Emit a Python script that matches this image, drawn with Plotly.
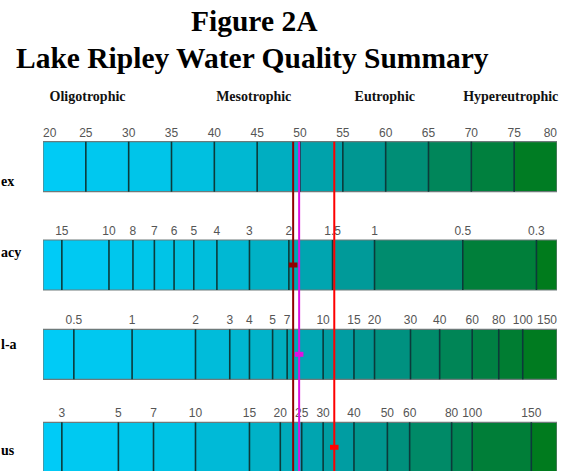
import plotly.graph_objects as go

# ---------------- data ----------------
title_lines = ["Figure 2A", "Lake Ripley Water Quality Summary"]

trophic_classes = ["Oligotrophic", "Mesotrophic", "Eutrophic", "Hypereutrophic"]
trophic_class_tsi = [25.2, 44.6, 59.9, 74.6]

# row names as far as they are visible at the cropped left edge of the reference
row_names = ["ex", "acy", "l-a", "us"]

tsi_labels = ["20", "25", "30", "35", "40", "45", "50", "55", "60", "65", "70", "75", "80"]
tsi_pos = [20, 25, 30, 35, 40, 45, 50, 55, 60, 65, 70, 75, 80]

secchi_labels = ["15", "10", "8", "7", "6", "5", "4", "3", "2", "1.5", "1", "0.5", "0.3"]
secchi_tsi = [22.2, 27.7, 30.5, 33.0, 35.3, 37.6, 40.3, 44.1, 48.7, 53.8, 58.7, 69.0, 77.6]

chl_labels = ["0.5", "1", "2", "3", "4", "5", "7", "10", "15", "20", "30", "40", "60", "80", "100", "150"]
chl_tsi = [23.6, 30.4, 37.8, 41.8, 44.1, 46.8, 48.5, 52.7, 56.3, 58.7, 62.9, 66.3, 70.1, 73.2, 76.0, 80.0]

tp_labels = ["3", "5", "7", "10", "15", "20", "25", "30", "40", "50", "60", "80", "100", "150"]
tp_tsi = [22.2, 28.8, 32.9, 37.8, 44.1, 47.7, 50.2, 52.7, 56.3, 60.2, 62.8, 67.7, 70.1, 77.0]

# Lake Ripley results expressed as TSI (transparency, chlorophyll-a, phosphorus)
result_names = ["Transparency", "Chlorophyll-a", "Phosphorus"]
result_tsi = [49.2, 49.9, 54.0]

# ---------------- layout / style constants ----------------
W, H = 574, 471
ML, MR = 43, 17.3
TSI_MIN, TSI_MAX = 20, 80
ROW_TOP = [141.7, 240.0, 329.3, 422.3]
ROW_H = 50
LABEL_GAP = 8
RESULT_COLORS = ["#900000", "#E010E0", "#FF0000"]
NAME_SPOTS = [(0, 181), (0, 252), (0, 344), (0, 450)]
TITLE_SPOTS = [(254, 21), (252.5, 58)]
CLASS_Y = 97

COLOR_STOPS = [(20, (0, 204, 248)), (35, (0, 196, 230)), (45, (0, 180, 204)),
               (50, (0, 168, 182)), (55, (0, 156, 160)), (60, (0, 146, 132)),
               (65, (0, 138, 104)), (70, (0, 130, 76)), (75, (0, 125, 48)),
               (80, (0, 122, 22))]


def seg_color(t):
    for (t0, c0), (t1, c1) in zip(COLOR_STOPS[:-1], COLOR_STOPS[1:]):
        if t <= t1:
            f = (t - t0) / (t1 - t0)
            return "rgb(%d,%d,%d)" % tuple(round(a + (b - a) * f) for a, b in zip(c0, c1))
    return "rgb(%d,%d,%d)" % COLOR_STOPS[-1][1]


rows = [(tsi_labels, tsi_pos), (secchi_labels, secchi_tsi),
        (chl_labels, chl_tsi), (tp_labels, tp_tsi)]

fig = go.Figure()

for r, (labels, pos) in enumerate(rows):
    top = ROW_TOP[r]
    center = top + ROW_H / 2
    dividers = [p for p in pos if TSI_MIN < p < TSI_MAX]
    bounds = [TSI_MIN] + dividers + [TSI_MAX]
    starts = bounds[:-1]
    widths = [b - a for a, b in zip(bounds[:-1], bounds[1:])]
    colors = [seg_color((a + b) / 2) for a, b in zip(bounds[:-1], bounds[1:])]
    fig.add_trace(go.Bar(orientation="h", y=[center] * len(starts), x=widths, base=starts,
                         width=ROW_H, marker=dict(color=colors, line=dict(width=0)),
                         hoverinfo="skip", showlegend=False))
    # outline
    fig.add_trace(go.Bar(orientation="h", y=[center], x=[TSI_MAX - TSI_MIN], base=[TSI_MIN],
                         width=ROW_H, marker=dict(color="rgba(0,0,0,0)",
                                                  line=dict(color="#6E7A7A", width=1.2)),
                         hoverinfo="skip", showlegend=False))
    # dividers
    dx, dy = [], []
    for d in dividers:
        dx += [d, d, None]
        dy += [top, top + ROW_H, None]
    fig.add_trace(go.Scatter(x=dx, y=dy, mode="lines", line=dict(color="#0C3A3A", width=1.6),
                             hoverinfo="skip", showlegend=False))
    # tick labels
    tpos = []
    for p in pos:
        if p <= TSI_MIN:
            tpos.append("middle right")
        elif p >= TSI_MAX:
            tpos.append("middle left")
        else:
            tpos.append("middle center")
    fig.add_trace(go.Scatter(x=pos, y=[top - LABEL_GAP] * len(pos), mode="text", text=labels,
                             textposition=tpos, cliponaxis=False,
                             textfont=dict(family="Liberation Sans", size=12, color="#555555"),
                             hoverinfo="skip", showlegend=False))

# result lines and markers
for i, (v, c) in enumerate(zip(result_tsi, RESULT_COLORS)):
    fig.add_trace(go.Scatter(x=[v, v], y=[ROW_TOP[0], H + 5], mode="lines",
                             line=dict(color=c, width=2), hoverinfo="skip", showlegend=False))
    yc = ROW_TOP[i + 1] + ROW_H / 2
    fig.add_trace(go.Scatter(x=[v - 0.5, v + 0.5], y=[yc, yc], mode="lines",
                             line=dict(color=c, width=5), hoverinfo="skip", showlegend=False))

# trophic class labels
fig.add_trace(go.Scatter(x=trophic_class_tsi, y=[CLASS_Y] * 4, mode="text",
                         text=["<b>%s</b>" % t for t in trophic_classes],
                         textposition="middle center", cliponaxis=False,
                         textfont=dict(family="Liberation Serif", size=14, color="#111111"),
                         hoverinfo="skip", showlegend=False))

plot_w = W - ML - MR

# row names (left edge)
for txt, (px, py) in zip(row_names, NAME_SPOTS):
    fig.add_annotation(text="<b>%s</b>" % txt, xref="paper", yref="y",
                       x=(px - ML) / plot_w, y=py, xanchor="left", yanchor="middle",
                       showarrow=False, borderpad=0,
                       font=dict(family="Liberation Serif", size=14, color="black"))

# title lines
for txt, (px, py) in zip(title_lines, TITLE_SPOTS):
    fig.add_annotation(text="<b>%s</b>" % txt, xref="paper", yref="y",
                       x=(px - ML) / plot_w, y=py, xanchor="center", yanchor="middle",
                       showarrow=False,
                       font=dict(family="Liberation Serif", size=29.5, color="black"))

fig.update_layout(
    width=W, height=H, autosize=False,
    margin=dict(l=ML, r=MR, t=0, b=0, pad=0),
    paper_bgcolor="white", plot_bgcolor="white",
    barmode="overlay", bargap=0,
    xaxis=dict(range=[TSI_MIN, TSI_MAX], visible=False, fixedrange=True),
    yaxis=dict(range=[H, 0], visible=False, fixedrange=True),
    showlegend=False,
)

fig.write_html("out.html", config={"displayModeBar": False, "staticPlot": True},
               post_script="document.body.style.margin='0';")
